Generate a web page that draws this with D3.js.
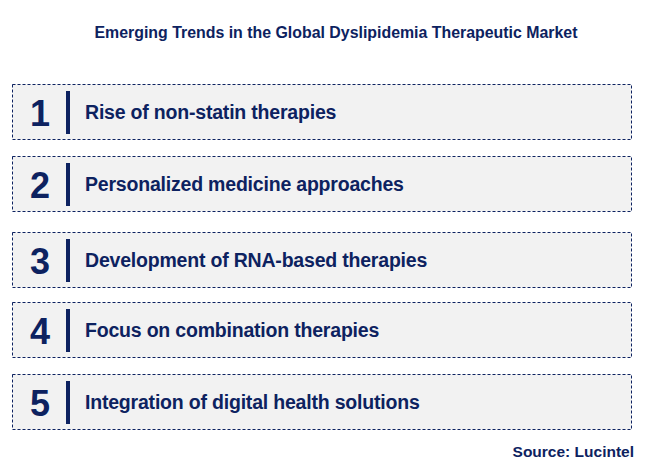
<!DOCTYPE html>
<html><head><meta charset="utf-8">
<script src="https://cdn.jsdelivr.net/npm/d3@7"></script>
<style>body{margin:0;background:#fff}</style>
</head><body>
<svg id="chart" width="650" height="465"></svg>
<script>
var numbers = ["1", "2", "3", "4", "5"];
var trends = [
  "Rise of non-statin therapies",
  "Personalized medicine approaches",
  "Development of RNA-based therapies",
  "Focus on combination therapies",
  "Integration of digital health solutions"
];
var boxTops = [84, 156, 232, 302, 374];

var navy = "#0d2260";
var svg = d3.select("#chart");
var font = "Liberation Sans, Arial, sans-serif";

svg.append("text").attr("x", 336).attr("y", 38).attr("text-anchor", "middle")
  .attr("font-family", font).attr("font-weight", "bold").attr("font-size", 15.9)
  .attr("fill", navy).text("Emerging Trends in the Global Dyslipidemia Therapeutic Market");

var g = svg.selectAll("g.row").data(trends).enter().append("g")
  .attr("transform", function(d, i) { return "translate(0," + boxTops[i] + ")"; });

g.append("rect").attr("x", 12.5).attr("y", 0.5).attr("width", 619).attr("height", 55)
  .attr("fill", "#f2f2f2").attr("stroke", navy).attr("stroke-width", 1)
  .attr("stroke-dasharray", "3,2");

g.append("text").attr("x", 40).attr("y", 42).attr("text-anchor", "middle")
  .attr("font-family", font).attr("font-weight", "bold").attr("font-size", 36)
  .attr("fill", navy).text(function(d, i) { return numbers[i]; });

g.append("rect").attr("x", 66).attr("y", 7).attr("width", 4).attr("height", 43).attr("fill", navy);

g.append("text").attr("x", 85).attr("y", 35)
  .attr("font-family", font).attr("font-weight", "bold").attr("font-size", 19.5)
  .attr("fill", navy).attr("letter-spacing", -0.2).text(function(d) { return d; });

svg.append("text").attr("x", 634).attr("y", 457).attr("text-anchor", "end")
  .attr("font-family", font).attr("font-weight", "bold").attr("font-size", 15.5)
  .attr("fill", navy).text("Source: Lucintel");
</script>
</body></html>
